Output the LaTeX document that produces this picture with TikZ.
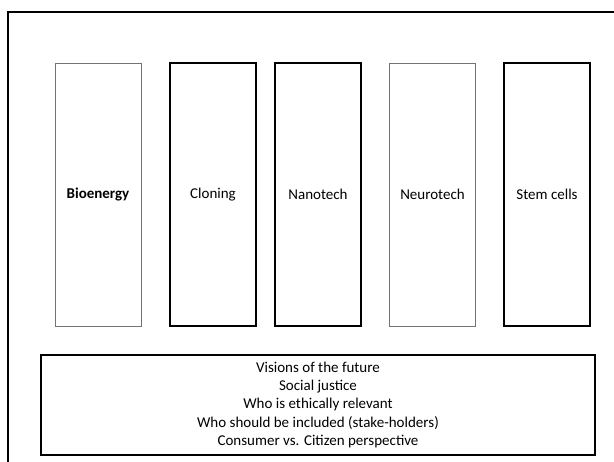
\documentclass[tikz,border=0pt]{standalone}
\usepackage{fontspec}
\setmainfont{Carlito}
\tikzset{
    topicbox/.style={draw, minimum width=86pt, minimum height=263pt, inner sep=0pt,
        font=\fontsize{15}{18.3}\selectfont},
    thinbox/.style={topicbox, draw=black!55, line width=0.6pt},
    thickbox/.style={topicbox, line width=1.8pt},
    issuebox/.style={draw, line width=1.6pt, minimum width=554pt, minimum height=100pt,
        align=center, font=\fontsize{15}{18.3}\selectfont}
}
\begin{document}
\begin{tikzpicture}[x=1pt, y=-1pt]
    \useasboundingbox (0,0) rectangle (614,462);
    \begin{scope}
        \clip (0,0) rectangle (614,462);
        \draw[line width=2.6pt] (8,12) rectangle (640,490);
    \end{scope}
    \node[thinbox] (bio) at (98,194.5) {\bfseries Bioenergy};
    \node[thickbox] (clone) at (213,194.5) {Cloning};
    \node[thickbox] (nano) at (318,194.5) {Nanotech};
    \node[thinbox] (neuro) at (432.5,194.5) {Neurotech};
    \node[thickbox, line width=1.4pt] (stem) at (547,194.5) {Stem cells};
    \node[issuebox] (issues) at (318,405) {Visions of the future\\Social justice\\Who is ethically relevant\\Who should be included (stake-holders)\\Consumer vs. Citizen perspective};
\end{tikzpicture}
\end{document}
